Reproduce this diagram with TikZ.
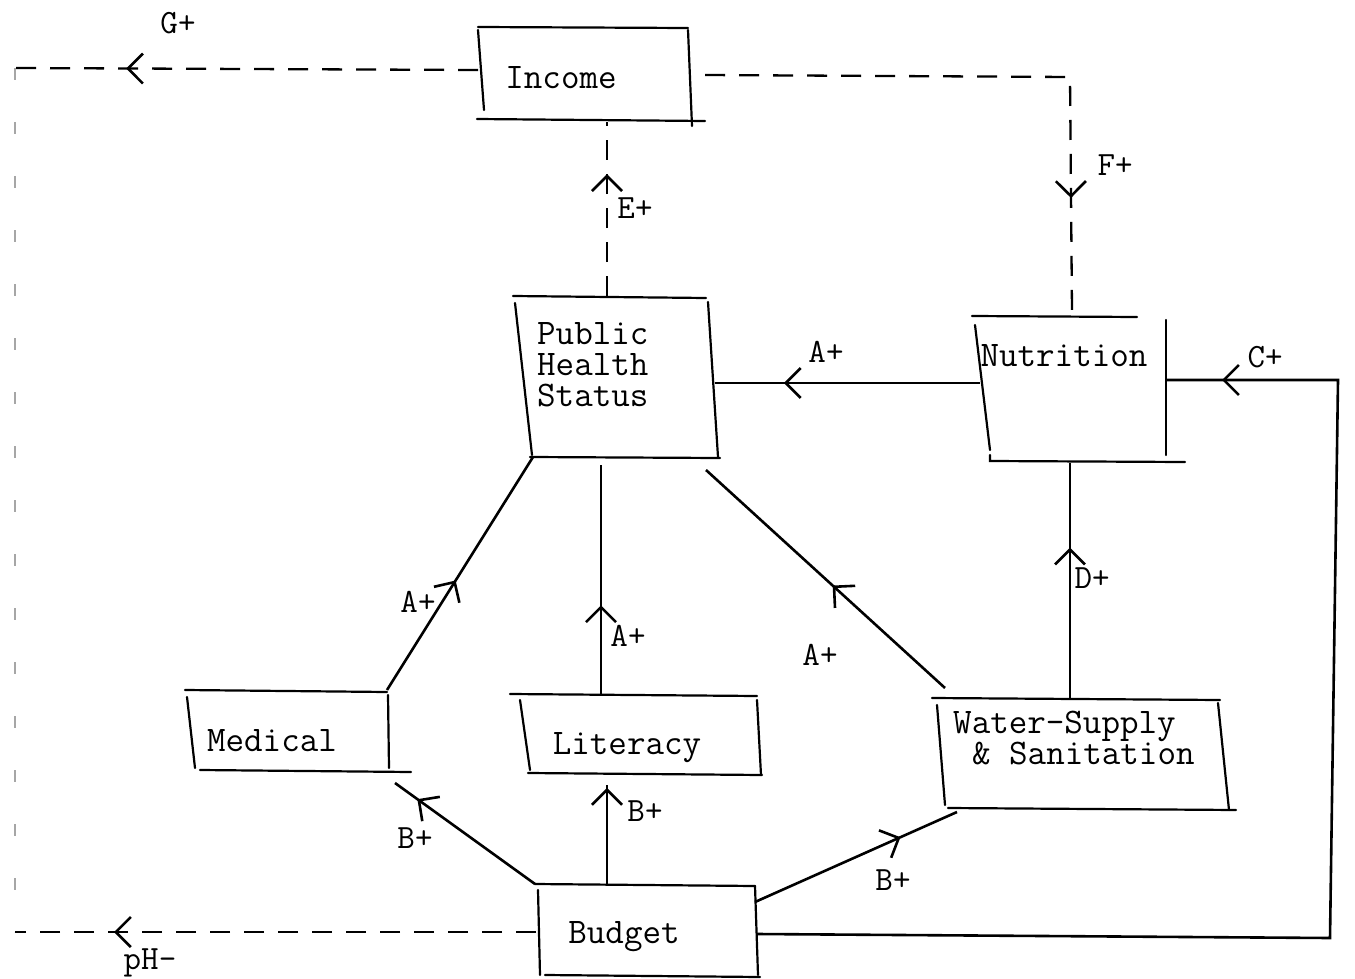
\documentclass[tikz,border=0pt]{standalone}
\usepackage{fontspec}
\usetikzlibrary{arrows.meta,decorations.markings}
\begin{document}
\begin{tikzpicture}[x=1pt,y=-1pt,
  txt/.style={font=\ttfamily\fontsize{36}{31}\selectfont, inner sep=0pt},
  lbl/.style={font=\ttfamily\fontsize{34}{31}\selectfont, inner sep=0pt},
  boxline/.style={line width=2.2pt, line cap=round},
  conn/.style={line width=2.6pt},
  dconn/.style={line width=2.3pt, dash pattern=on 20pt off 14pt},
  faint/.style={line width=1.8pt, gray!70, dash pattern=on 12pt off 42pt},
  midarrow/.style={postaction={decorate, decoration={markings,
     mark=at position #1 with {\arrow{Straight Barb[length=15pt,width=30pt,line width=2.6pt]}}}}}
]
\useasboundingbox (0,0) rectangle (1355,979);

% ---------- text nodes ----------
\node[txt] (inc) at (561,78) {Income};
\node[txt, align=left, anchor=west] (phs) at (537,365) {Public\\Health\\Status};
\node[txt] (nut) at (1064,356) {Nutrition};
\node[txt] (med) at (272,741) {Medical};
\node[txt] (lit) at (627,748) {Literacy};
\node[txt, align=left, anchor=west] (wat) at (953,738) {Water-Supply\\\hspace*{0.525em}\& Sanitation};
\node[txt] (bud) at (624,937) {Budget};

% ---------- box outlines ----------
% Income
\draw[boxline] (478,27) -- (688,28);
\draw[boxline] (478,30) -- (484,110);
\draw[boxline] (688,30) -- (692,126);
\draw[boxline] (477,119) -- (705,121);
% Public Health Status
\draw[boxline] (513,296) -- (706,298);
\draw[boxline] (515,303) -- (532,455);
\draw[boxline] (708,302) -- (718,457);
\draw[boxline] (530,457) -- (720,458);
% Nutrition
\draw[boxline] (972,316) -- (1137,317);
\draw[boxline] (975,325) -- (990,450);
\draw[boxline] (1166,320) -- (1166,455);
\draw[boxline] (990,455) -- (990,461) -- (1185,462);
% Medical
\draw[boxline] (185,690) -- (387,692);
\draw[boxline] (187,697) -- (195,768);
\draw[boxline] (388,695) -- (389,768);
\draw[boxline] (200,770) -- (411,772);
% Literacy
\draw[boxline] (510,694) -- (757,696);
\draw[boxline] (520,700) -- (530,770);
\draw[boxline] (757,700) -- (761,775);
\draw[boxline] (528,773) -- (762,775);
% Water-Supply & Sanitation
\draw[boxline] (932,698) -- (1220,700);
\draw[boxline] (937,705) -- (945,805);
\draw[boxline] (1218,703) -- (1229,810);
\draw[boxline] (948,808) -- (1236,810);
% Budget
\draw[boxline] (535,884) -- (755,886);
\draw[boxline] (538,890) -- (540,975);
\draw[boxline] (755,886) -- (758,975);
\draw[boxline] (545,975) -- (760,977);

% ---------- connector end points ----------
\coordinate (incW) at (478,70);
\coordinate (incE) at (705,75);
\coordinate (incS) at (607,122);
\coordinate (tl) at (15,68);
\coordinate (bl) at (15,932);
\coordinate (trF) at (1070,77);
\coordinate (nutN) at (1072,312);
\coordinate (nutW) at (980,383);
\coordinate (nutE) at (1166,380);
\coordinate (nutS) at (1070,463);
\coordinate (phsN) at (607,296);
\coordinate (phsE) at (715,383);
\coordinate (phsSW) at (533,457);
\coordinate (phsS) at (601,465);
\coordinate (phsSE) at (706,470);
\coordinate (medNE) at (387,690);
\coordinate (medSE) at (395,783);
\coordinate (litN) at (601,695);
\coordinate (litS) at (607,785);
\coordinate (watNW) at (945,688);
\coordinate (watN) at (1070,698);
\coordinate (watSW) at (957,812);
\coordinate (budW) at (536,932);
\coordinate (budNW) at (535,884);
\coordinate (budN) at (607,884);
\coordinate (budNE) at (755,902);
\coordinate (budE) at (757,934);
\coordinate (rb) at (1330,938);
\coordinate (rt) at (1338,380);

% ---------- dashed connectors ----------
\draw[dconn, midarrow=0.76] (incW) -- (tl);
\draw[faint] (tl) -- (bl);
\draw[dconn, midarrow=0.81] (budW) -- (bl);
\draw[dconn, midarrow=-114pt] (incE) -- (trF) -- (nutN);
\draw[dconn, midarrow=0.7] (phsN) -- (incS);

% ---------- solid connectors ----------
\draw[conn, midarrow=0.74] (nutW) -- (phsE);
\draw[conn, midarrow=-56pt] (budE) -- (rb) -- (rt) -- (nutE);
\draw[conn, midarrow=0.64] (watN) -- (nutS);
\draw[conn, midarrow=0.47] (medNE) -- (phsSW);
\draw[conn, midarrow=0.39] (litN) -- (phsS);
\draw[conn, midarrow=0.47] (watNW) -- (phsSE);
\draw[conn, midarrow=0.84] (budNW) -- (medSE);
\draw[conn, midarrow=0.97] (budN) -- (litS);
\draw[conn, midarrow=0.72] (budNE) -- (watSW);

% ---------- labels ----------
\node[lbl] (lG) at (178,23) {G+};
\node[lbl] (lpH) at (150,963) {pH-};
\node[lbl] (lF) at (1115,165) {F+};
\node[lbl] (lE) at (635,208) {E+};
\node[lbl] (lA1) at (826,352) {A+};
\node[lbl] (lC) at (1265,357) {C+};
\node[lbl] (lD) at (1092,578) {D+};
\node[lbl] (lA2) at (418,602) {A+};
\node[lbl] (lA3) at (628,636) {A+};
\node[lbl] (lA4) at (820,655) {A+};
\node[lbl] (lB1) at (415,838) {B+};
\node[lbl] (lB2) at (645,811) {B+};
\node[lbl] (lB3) at (893,880) {B+};
\end{tikzpicture}
\end{document}
